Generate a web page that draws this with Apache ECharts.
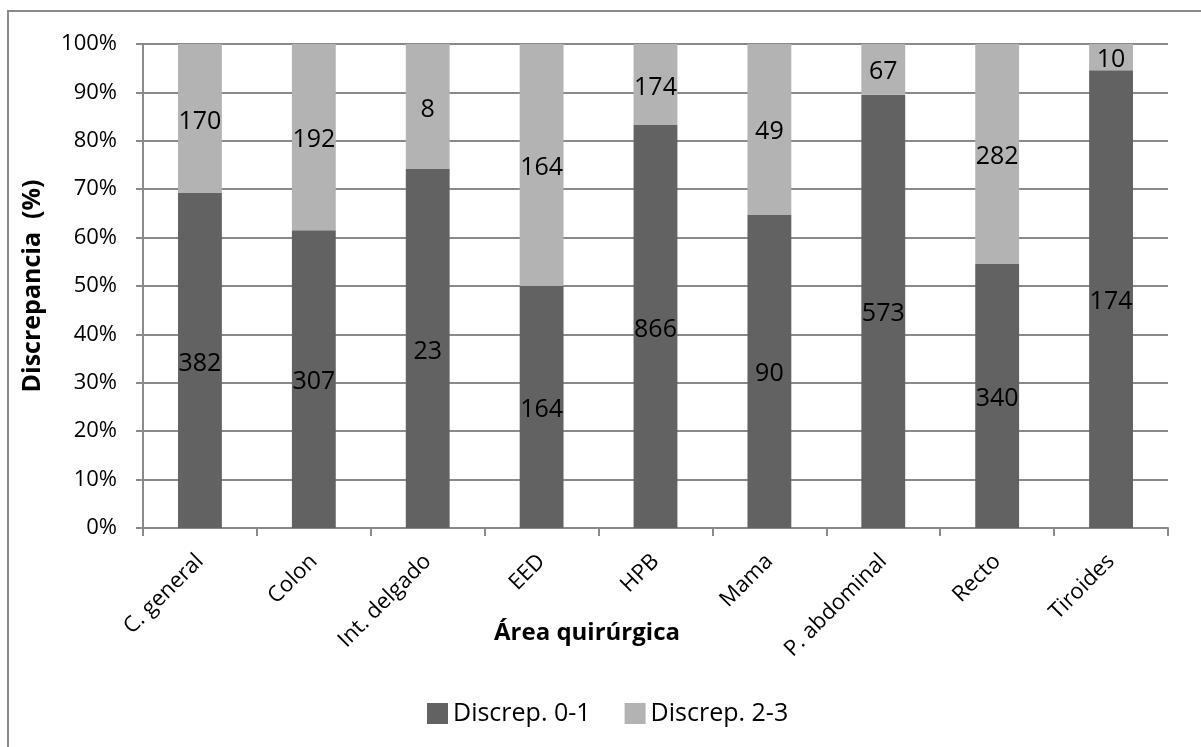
<!DOCTYPE html>
<html>
<head>
<meta charset="utf-8">
<script src="https://cdn.jsdelivr.net/npm/echarts@6/dist/echarts.min.js"></script>
<style>
  html, body { margin: 0; padding: 0; background: #ffffff; }
  #chart { width: 1201px; height: 747px; }
</style>
</head>
<body>
<div id="chart"></div>
<script>
// Surgical areas and case counts by discrepancy grade
const categories = ['C. general', 'Colon', 'Int. delgado', 'EED', 'HPB', 'Mama', 'P. abdominal', 'Recto', 'Tiroides'];
const discrep01 = [382, 307, 23, 164, 866, 90, 573, 340, 174];
const discrep23 = [170, 192, 8, 164, 174, 49, 67, 282, 10];
const seriesNames = ['Discrep. 0-1', 'Discrep. 2-3'];
const yTicks = [0, 10, 20, 30, 40, 50, 60, 70, 80, 90, 100];

const FONT = '"Open Sans", "Noto Sans", sans-serif';
const DARK = '#626262';
const LIGHT = '#b3b3b3';
const GRIDC = '#8a8a8a';

// 100% stacked shares, keeping the raw counts for the labels
const totals = discrep01.map((v, i) => v + discrep23[i]);
const share = arr => arr.map((v, i) => ({ value: v / totals[i] * 100, count: v }));

const chart = echarts.init(document.getElementById('chart'), null, { renderer: 'canvas' });

const labelCfg = {
  show: true,
  position: 'inside',
  color: '#000',
  fontFamily: FONT,
  fontSize: 25,
  offset: [0, 3],
  formatter: p => String(p.data.count)
};

chart.setOption({
  backgroundColor: '#ffffff',
  animation: false,
  grid: { left: 143, right: 33, top: 44, bottom: 219 },
  legend: {
    data: seriesNames,
    left: 422,
    top: 696,
    itemWidth: 21,
    itemHeight: 21,
    itemGap: 34,
    icon: 'rect',
    textStyle: { fontFamily: FONT, fontSize: 25, color: '#000' }
  },
  xAxis: {
    type: 'category',
    data: categories,
    boundaryGap: true,
    axisLine: { lineStyle: { color: GRIDC, width: 2 } },
    axisTick: { show: true, alignWithLabel: false, length: 8, lineStyle: { color: GRIDC, width: 2 } },
    axisLabel: {
      rotate: 45,
      margin: 30,
      interval: 0,
      fontFamily: FONT,
      fontSize: 22,
      color: '#000'
    }
  },
  yAxis: {
    type: 'value',
    min: yTicks[0],
    max: yTicks[yTicks.length - 1],
    interval: 10,
    name: 'Discrepancia  (%)',
    nameLocation: 'middle',
    nameGap: 98,
    nameTextStyle: { fontFamily: FONT, fontSize: 25, fontWeight: 'bold', color: '#000' },
    axisLine: { show: true, lineStyle: { color: GRIDC, width: 2 } },
    axisTick: { show: true, length: 7, lineStyle: { color: GRIDC, width: 2 } },
    axisLabel: {
      margin: 26,
      fontFamily: FONT,
      fontSize: 22,
      color: '#000',
      formatter: '{value}%'
    },
    splitLine: { show: true, lineStyle: { color: GRIDC, width: 2 } }
  },
  graphic: [
    {
      type: 'polyline',
      shape: { points: [[8, 747], [8, 11], [1201, 11]] },
      style: { stroke: '#8a8a8a', lineWidth: 2, fill: null },
      silent: true
    },
    {
      type: 'text',
      x: 587,
      y: 633,
      style: {
        text: 'Área quirúrgica',
        fontFamily: FONT,
        fontSize: 24,
        fontWeight: 'bold',
        fill: '#000',
        align: 'center',
        verticalAlign: 'middle'
      }
    }
  ],
  series: [
    {
      name: seriesNames[0],
      type: 'bar',
      stack: 'total',
      barWidth: '38.5%',
      itemStyle: { color: DARK },
      label: labelCfg,
      data: share(discrep01)
    },
    {
      name: seriesNames[1],
      type: 'bar',
      stack: 'total',
      barWidth: '38.5%',
      itemStyle: { color: LIGHT },
      label: labelCfg,
      data: share(discrep23)
    }
  ]
});
</script>
</body>
</html>
